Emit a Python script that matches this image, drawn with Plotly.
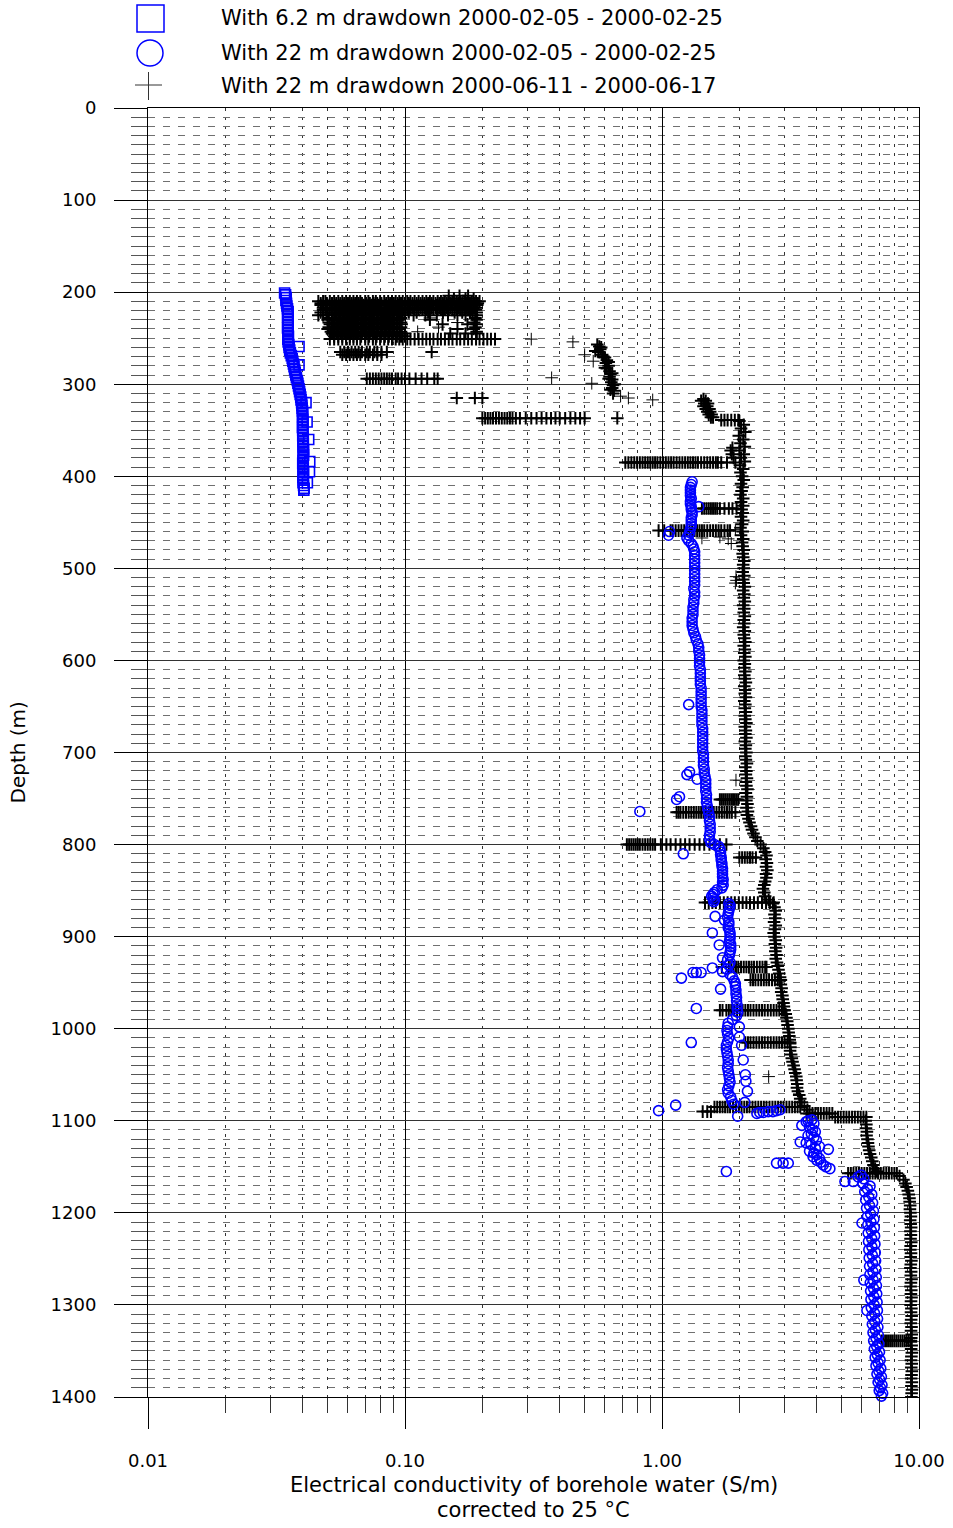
import plotly.graph_objects as go

# ---------------------------------------------------------------- data
# Electrical conductivity of borehole water (S/m, corrected to 25 degC) vs depth (m)

# With 6.2 m drawdown 2000-02-05 - 2000-02-25  (depth, EC)
square_pts = [
    (201, 0.0340), (203, 0.0343), (206, 0.0345), (209, 0.0344), (212, 0.0346), (215, 0.0347),
    (218, 0.0349), (221, 0.0351), (224, 0.0350), (227, 0.0349), (230, 0.0350), (233, 0.0351),
    (236, 0.0350), (239, 0.0349), (242, 0.0350), (245, 0.0351), (248, 0.0352), (251, 0.0350),
    (254, 0.0351), (257, 0.0353), (259, 0.0387), (260, 0.0354), (263, 0.0356), (266, 0.0358),
    (269, 0.0361), (272, 0.0364), (275, 0.0366), (278, 0.0368), (279, 0.0387), (281, 0.0370),
    (284, 0.0372), (287, 0.0374), (290, 0.0376), (293, 0.0378), (296, 0.0381), (299, 0.0383),
    (302, 0.0385), (305, 0.0387), (308, 0.0389), (311, 0.0391), (314, 0.0393), (317, 0.0394),
    (320, 0.0396), (320, 0.0412), (323, 0.0397), (326, 0.0398), (329, 0.0399), (332, 0.0400),
    (335, 0.0399), (338, 0.0400), (341, 0.0401), (341, 0.0416), (344, 0.0400), (347, 0.0399),
    (350, 0.0400), (353, 0.0401), (356, 0.0400), (359, 0.0402), (360, 0.0422), (362, 0.0401),
    (365, 0.0402), (368, 0.0401), (371, 0.0403), (374, 0.0402), (377, 0.0403), (380, 0.0402),
    (383, 0.0401), (384, 0.0426), (386, 0.0400), (389, 0.0401), (392, 0.0402), (395, 0.0403),
    (395, 0.0425), (398, 0.0402), (401, 0.0401), (404, 0.0402), (407, 0.0401), (407, 0.0417),
    (410, 0.0403), (413, 0.0405), (415, 0.0404),
]

# With 22 m drawdown 2000-02-05 - 2000-02-25  (depth, EC)
circle_pts = [
    (406, 1.31), (409, 1.30), (412, 1.29), (415, 1.29), (418, 1.29), (421, 1.29), (424, 1.30),
    (427, 1.29), (430, 1.29), (433, 1.30), (433, 1.39), (436, 1.30), (439, 1.31), (442, 1.31),
    (445, 1.30), (448, 1.30), (451, 1.30), (454, 1.30), (457, 1.29), (460, 1.07), (464, 1.06),
    (461, 1.28), (464, 1.27), (467, 1.25), (470, 1.27), (473, 1.30), (476, 1.32), (479, 1.33),
    (482, 1.34), (486, 1.34), (490, 1.34), (494, 1.34), (498, 1.34), (502, 1.34), (506, 1.34),
    (510, 1.34), (514, 1.34), (518, 1.34), (522, 1.33), (526, 1.34), (530, 1.34), (534, 1.33),
    (538, 1.33), (542, 1.32), (546, 1.32), (550, 1.32), (554, 1.31), (558, 1.31), (562, 1.31),
    (566, 1.32), (570, 1.33), (574, 1.35), (578, 1.36), (582, 1.38), (586, 1.39), (590, 1.39),
    (594, 1.40), (598, 1.40), (602, 1.40), (606, 1.40), (610, 1.41), (614, 1.41), (618, 1.41),
    (622, 1.41), (626, 1.41), (630, 1.42), (634, 1.42), (638, 1.42), (642, 1.42), (646, 1.42),
    (648, 1.27), (650, 1.42), (654, 1.43), (658, 1.43), (662, 1.43), (666, 1.43), (670, 1.43),
    (674, 1.44), (678, 1.44), (682, 1.44), (686, 1.44), (690, 1.44), (694, 1.44), (698, 1.44),
    (702, 1.45), (706, 1.45), (710, 1.45), (714, 1.45), (718, 1.46), (721, 1.28), (724, 1.25),
    (722, 1.46), (726, 1.47), (729, 1.37), (730, 1.48), (734, 1.48), (738, 1.48), (742, 1.48),
    (746, 1.49), (748, 1.17), (751, 1.14), (750, 1.49), (754, 1.49), (758, 1.50), (762, 1.51),
    (764, 0.82), (766, 1.52), (770, 1.53), (774, 1.53), (778, 1.54), (782, 1.54), (786, 1.54),
    (790, 1.53), (794, 1.53), (798, 1.55), (800, 1.60), (802, 1.66), (805, 1.68), (808, 1.69),
    (810, 1.21), (811, 1.69), (814, 1.70), (817, 1.70), (820, 1.71), (823, 1.71), (826, 1.72),
    (829, 1.72), (832, 1.72), (835, 1.72), (838, 1.73), (841, 1.72), (844, 1.73), (847, 1.71),
    (849, 1.64), (852, 1.60), (854, 1.58), (856, 1.56), (858, 1.58), (860, 1.60), (862, 1.59),
    (864, 1.82), (866, 1.84), (869, 1.83), (872, 1.82), (875, 1.81), (878, 1.61), (879, 1.80),
    (882, 1.75), (884, 1.82), (887, 1.82), (890, 1.81), (893, 1.83), (896, 1.57), (896, 1.84),
    (899, 1.84), (902, 1.84), (905, 1.83), (909, 1.67), (908, 1.85), (911, 1.85), (914, 1.85),
    (917, 1.84), (920, 1.83), (923, 1.72), (925, 1.80), (928, 1.84), (931, 1.82), (934, 1.57),
    (935, 1.78), (938, 1.72), (939, 1.32), (939, 1.36), (939, 1.42), (941, 1.84), (945, 1.19),
    (944, 1.88), (948, 1.91), (951, 1.93), (954, 1.93), (957, 1.69), (958, 1.94), (962, 1.94),
    (966, 1.95), (970, 1.95), (974, 1.96), (978, 1.36), (978, 1.96), (982, 1.97), (986, 1.95),
    (990, 1.88), (994, 1.81), (998, 2.00), (998, 1.80), (1002, 1.79), (1006, 1.80), (1009, 2.00),
    (1010, 1.82), (1014, 1.80), (1015, 1.30), (1018, 2.04), (1018, 1.78), (1022, 1.78),
    (1026, 1.79), (1030, 1.80), (1034, 2.07), (1034, 1.81), (1038, 1.81), (1042, 1.80),
    (1046, 1.81), (1050, 2.11), (1050, 1.82), (1054, 1.83), (1057, 2.12), (1058, 1.84),
    (1062, 1.82), (1066, 1.80), (1068, 2.15), (1070, 1.81), (1074, 1.85), (1078, 1.87),
    (1080, 2.10), (1082, 1.90), (1083, 1.13), (1089, 0.97), (1095, 1.97),
    (1092, 2.34), (1091, 2.40), (1091, 2.48), (1090, 2.59), (1090, 2.70), (1089, 2.79), (1088, 2.88),
    (1099, 3.83), (1100, 3.70), (1101, 3.64), (1103, 3.90), (1105, 3.50), (1107, 3.75),
    (1110, 3.85), (1112, 3.95), (1114, 3.81), (1116, 3.70), (1118, 3.90), (1121, 3.99),
    (1123, 3.45), (1124, 3.64), (1126, 3.80), (1128, 4.10), (1130, 3.95), (1131, 4.44),
    (1133, 3.75), (1135, 3.90), (1137, 4.00), (1139, 3.87), (1141, 4.10), (1143, 4.01),
    (1145, 4.15), (1148, 4.24), (1150, 4.35), (1152, 4.50),
    (1146, 2.79), (1146, 2.96), (1146, 3.10), (1155, 1.78),
    (1166, 5.15), (1166, 5.55), (1161, 5.80), (1159, 5.95), (1163, 6.10),
    (1168, 6.05), (1171, 6.45), (1174, 6.30), (1177, 6.15), (1180, 6.55), (1183, 6.38),
    (1186, 6.20), (1189, 6.60), (1192, 6.42), (1195, 6.25), (1198, 6.65), (1201, 6.48),
    (1204, 6.30), (1207, 6.68), (1210, 6.50), (1211, 6.00), (1213, 6.32), (1216, 6.70),
    (1219, 6.52), (1222, 6.34), (1225, 6.72), (1228, 6.55), (1231, 6.36), (1234, 6.74),
    (1237, 6.56), (1240, 6.38), (1243, 6.76), (1246, 6.58), (1249, 6.40), (1252, 6.78),
    (1255, 6.60), (1258, 6.42), (1261, 6.80), (1264, 6.62), (1267, 6.44), (1270, 6.82),
    (1273, 6.10), (1273, 6.63), (1276, 6.46), (1279, 6.83), (1282, 6.65), (1285, 6.48),
    (1288, 6.85), (1291, 6.67), (1294, 6.50), (1297, 6.87), (1300, 6.69), (1303, 6.52),
    (1306, 6.27), (1306, 6.89), (1309, 6.71), (1312, 6.55), (1315, 6.90), (1318, 6.73),
    (1321, 6.58), (1324, 6.92), (1327, 6.76), (1330, 6.62), (1333, 6.95), (1336, 6.80),
    (1339, 6.66), (1342, 6.98), (1345, 6.84), (1348, 6.70), (1351, 7.02), (1354, 6.88),
    (1357, 6.75), (1360, 7.06), (1363, 6.93), (1366, 6.80), (1369, 7.10), (1372, 6.98),
    (1375, 6.86), (1378, 7.14), (1381, 7.03), (1384, 6.93), (1387, 7.18), (1390, 7.08),
    (1393, 7.00), (1396, 7.22), (1399, 7.14), (1402, 7.25),
]

# With 22 m drawdown 2000-06-11 - 2000-06-17: continuous logging profile (depth, EC)
plus_profile = [
    (340, 2.00), (344, 2.08), (348, 2.03), (352, 2.11), (356, 1.99), (360, 2.07), (364, 2.02),
    (368, 2.10), (372, 2.00), (376, 2.08), (380, 2.03), (384, 2.10), (388, 2.01), (392, 2.07),
    (396, 2.02), (400, 2.05), (404, 2.08), (408, 2.03), (412, 2.06), (416, 2.04), (420, 2.02),
    (424, 2.07), (428, 2.03), (432, 2.07), (436, 2.04), (440, 2.06), (444, 2.03), (448, 2.07),
    (452, 2.05), (456, 2.02), (460, 2.06), (464, 2.03), (468, 2.07), (472, 2.05), (476, 2.06),
    (480, 2.08), (484, 2.06), (488, 2.07), (492, 2.09), (496, 2.07), (500, 2.08), (504, 2.06),
    (508, 2.09), (512, 2.07), (516, 2.08), (520, 2.10), (524, 2.07), (528, 2.09), (532, 2.08),
    (536, 2.10), (540, 2.07), (544, 2.09), (548, 2.08), (552, 2.10), (556, 2.08), (560, 2.09),
    (564, 2.07), (568, 2.10), (572, 2.08), (576, 2.09), (580, 2.11), (584, 2.08), (588, 2.10),
    (592, 2.09), (596, 2.11), (600, 2.08), (604, 2.10), (608, 2.09), (612, 2.11), (616, 2.09),
    (620, 2.10), (624, 2.12), (628, 2.09), (632, 2.11), (636, 2.10), (640, 2.12), (644, 2.09),
    (648, 2.11), (652, 2.10), (656, 2.12), (660, 2.10), (664, 2.11), (668, 2.13), (672, 2.10),
    (676, 2.12), (680, 2.11), (684, 2.13), (688, 2.10), (692, 2.12), (696, 2.11), (700, 2.13),
    (704, 2.11), (708, 2.12), (712, 2.14), (716, 2.11), (720, 2.13), (724, 2.12), (728, 2.14),
    (732, 2.12), (736, 2.13), (740, 2.15), (744, 2.12), (748, 2.14), (752, 2.13), (756, 2.15),
    (760, 2.13), (764, 2.16), (768, 2.14), (772, 2.17), (776, 2.19), (780, 2.22), (784, 2.24),
    (788, 2.27), (792, 2.31), (796, 2.35), (800, 2.42), (804, 2.48), (808, 2.52), (812, 2.55),
    (816, 2.53), (820, 2.56), (824, 2.54), (828, 2.57), (832, 2.54), (836, 2.55), (840, 2.52),
    (844, 2.50), (848, 2.47), (852, 2.50), (856, 2.52), (860, 2.60), (864, 2.70), (868, 2.74),
    (872, 2.77), (876, 2.74), (880, 2.76), (884, 2.73), (888, 2.77), (892, 2.75), (896, 2.72),
    (900, 2.74), (904, 2.77), (908, 2.75), (912, 2.78), (916, 2.76), (920, 2.79), (924, 2.77),
    (928, 2.80), (932, 2.82), (936, 2.84), (940, 2.86), (944, 2.88), (948, 2.87), (952, 2.90),
    (956, 2.92), (960, 2.91), (964, 2.94), (968, 2.95), (972, 2.97), (976, 2.98), (980, 3.00),
    (984, 3.03), (988, 3.05), (992, 3.07), (996, 3.08), (1000, 3.10), (1004, 3.11), (1008, 3.13),
    (1012, 3.14), (1016, 3.15), (1020, 3.16), (1024, 3.15), (1028, 3.18), (1032, 3.20),
    (1036, 3.22), (1040, 3.25), (1044, 3.28), (1048, 3.30), (1052, 3.33), (1056, 3.34),
    (1060, 3.36), (1064, 3.35), (1068, 3.38), (1072, 3.42), (1076, 3.45), (1080, 3.50),
    (1084, 3.58), (1088, 3.68),
    (1100, 6.20), (1104, 6.24), (1108, 6.22), (1112, 6.27), (1116, 6.25), (1120, 6.30),
    (1124, 6.33), (1128, 6.36), (1132, 6.40), (1136, 6.45), (1140, 6.52), (1144, 6.58),
    (1148, 6.65), (1152, 6.75), (1155, 6.85),
    (1160, 8.40), (1164, 8.70), (1168, 8.85), (1172, 8.95), (1176, 9.05), (1180, 9.12),
    (1184, 9.18), (1188, 9.20), (1192, 9.24), (1196, 9.22), (1200, 9.26), (1204, 9.30),
    (1208, 9.24), (1212, 9.28), (1216, 9.32), (1220, 9.26), (1224, 9.30), (1228, 9.27),
    (1232, 9.33), (1236, 9.28), (1240, 9.25), (1244, 9.31), (1248, 9.28), (1252, 9.34),
    (1256, 9.29), (1260, 9.26), (1264, 9.32), (1268, 9.29), (1272, 9.35), (1276, 9.30),
    (1280, 9.27), (1284, 9.33), (1288, 9.30), (1292, 9.35), (1296, 9.31), (1300, 9.28),
    (1304, 9.34), (1308, 9.31), (1312, 9.36), (1316, 9.32), (1320, 9.29), (1324, 9.35),
    (1328, 9.31), (1332, 9.37), (1336, 9.33), (1340, 9.30), (1344, 9.36), (1348, 9.32),
    (1352, 9.38), (1356, 9.34), (1360, 9.31), (1364, 9.37), (1368, 9.33), (1372, 9.38),
    (1376, 9.35), (1380, 9.32), (1384, 9.38), (1388, 9.34), (1392, 9.39), (1396, 9.36),
    (1400, 9.34),
]

# Same run: scattered single readings (depth, EC)
plus_scatter = [
    (251, 0.31), (254, 0.45), (268, 0.50), (275, 0.54), (293, 0.372), (299, 0.533),
    (313, 0.69), (315, 0.74), (317, 0.92), (458, 1.93), (466, 1.68), (467, 1.43), (468, 1.81),
    (473, 1.86), (509, 1.94), (513, 1.95), (516, 1.93), (730, 1.94), (1052, 2.60),
    (228, 0.125), (233, 0.16), (238, 0.135), (243, 0.112),
]

# Same run: short dense clusters (depth, EC)
plus_cluster = [
    (257, 0.56), (259, 0.57), (260, 0.58), (262, 0.575), (264, 0.55), (265, 0.565),
    (268, 0.585), (270, 0.59), (271, 0.60), (274, 0.61), (276, 0.62), (277, 0.605),
    (280, 0.62), (282, 0.60), (283, 0.61), (286, 0.625), (288, 0.64), (289, 0.63),
    (292, 0.625), (294, 0.62), (295, 0.64), (298, 0.635), (300, 0.655), (301, 0.645),
    (304, 0.64), (306, 0.63), (307, 0.65), (310, 0.645),
    (316, 1.45), (318, 1.42), (318, 1.48), (321, 1.46), (321, 1.51), (324, 1.45), (324, 1.50),
    (327, 1.48), (327, 1.53), (330, 1.50), (330, 1.54), (333, 1.52), (333, 1.56), (336, 1.55),
    (336, 1.58), (369, 1.88), (372, 1.85), (376, 1.87), (380, 1.90),
]

# Same run: stationary readings, many values logged at one depth (depth, [EC, ...])
plus_stationary = [
    (204, [0.148, 0.163, 0.176]),
    (207, [0.155, 0.172, 0.185]),
    (210, [0.046, 0.048, 0.049, 0.051, 0.053, 0.055, 0.057, 0.059, 0.061, 0.063, 0.065, 0.067,
           0.070, 0.072, 0.075, 0.077, 0.080, 0.083, 0.086, 0.089, 0.092, 0.095, 0.098, 0.102,
           0.105, 0.109, 0.113, 0.117, 0.121, 0.125, 0.129, 0.134, 0.138, 0.143, 0.148, 0.153,
           0.159, 0.164, 0.170, 0.176, 0.182, 0.189, 0.195]),
    (212, [0.047, 0.0495, 0.052, 0.054, 0.056, 0.058, 0.060, 0.062, 0.064, 0.066, 0.068, 0.0705,
           0.073, 0.0755, 0.078, 0.081, 0.0845, 0.0875, 0.0905, 0.0935, 0.0965, 0.100, 0.1035,
           0.107, 0.111, 0.115, 0.119, 0.123, 0.127, 0.1315, 0.136, 0.1405, 0.1455, 0.1505,
           0.156, 0.1615, 0.167, 0.173, 0.179, 0.1855, 0.192]),
    (214, [0.047, 0.050, 0.052, 0.054, 0.056, 0.058, 0.060, 0.062, 0.064, 0.066, 0.069, 0.071,
           0.074, 0.076, 0.079, 0.081, 0.084, 0.087, 0.090, 0.094, 0.097, 0.100, 0.104, 0.107,
           0.111, 0.115, 0.119, 0.123, 0.127, 0.132, 0.136, 0.141, 0.146, 0.151, 0.156, 0.161,
           0.167, 0.173, 0.179, 0.185, 0.191]),
    (217, [0.048, 0.0495, 0.052, 0.054, 0.056, 0.058, 0.060, 0.062, 0.064, 0.066, 0.068, 0.0705,
           0.073, 0.0755, 0.078, 0.081, 0.0845, 0.0875, 0.0905, 0.0935, 0.0965, 0.100, 0.1035,
           0.107, 0.111, 0.115, 0.119, 0.123, 0.127, 0.1315, 0.136, 0.1405, 0.1455, 0.1505,
           0.156, 0.1615, 0.167, 0.173, 0.179, 0.1855, 0.190]),
    (219, [0.048, 0.049, 0.051, 0.053, 0.055, 0.057, 0.059, 0.061, 0.063, 0.065, 0.067, 0.070,
           0.072, 0.075, 0.077, 0.080, 0.083, 0.086, 0.089, 0.092, 0.095, 0.098, 0.102, 0.105,
           0.109, 0.113, 0.117, 0.121, 0.125, 0.129, 0.134, 0.138, 0.143, 0.148, 0.153, 0.159,
           0.164, 0.170, 0.176, 0.182, 0.189]),
    (222, [0.047, 0.0495, 0.052, 0.054, 0.056, 0.058, 0.060, 0.062, 0.064, 0.066, 0.068, 0.0705,
           0.073, 0.0755, 0.078, 0.081, 0.0845, 0.0875, 0.0905, 0.0935, 0.0965, 0.100, 0.1035,
           0.111, 0.123, 0.1405, 0.156, 0.167, 0.179, 0.190]),
    (225, [0.046, 0.048, 0.050, 0.052, 0.054, 0.056, 0.058, 0.060, 0.062, 0.064, 0.066, 0.069,
           0.071, 0.074, 0.076, 0.079, 0.082, 0.085, 0.088, 0.091, 0.094, 0.098, 0.108, 0.120,
           0.133, 0.147, 0.160, 0.172, 0.183, 0.190]),
    (228, [0.0505, 0.053, 0.055, 0.057, 0.059, 0.061, 0.063, 0.065, 0.0675, 0.070, 0.0725,
           0.075, 0.0775, 0.0805, 0.0835, 0.0865, 0.0895, 0.093, 0.0965, 0.188]),
    (230, [0.050, 0.052, 0.054, 0.056, 0.058, 0.060, 0.062, 0.064, 0.066, 0.069, 0.071, 0.074,
           0.076, 0.079, 0.082, 0.085, 0.088, 0.091, 0.095, 0.125, 0.190]),
    (233, [0.0505, 0.053, 0.055, 0.057, 0.059, 0.061, 0.063, 0.065, 0.0675, 0.070, 0.0725,
           0.075, 0.0775, 0.0805, 0.0835, 0.0865, 0.0895, 0.093, 0.0965, 0.186]),
    (235, [0.051, 0.053, 0.055, 0.057, 0.059, 0.061, 0.063, 0.065, 0.068, 0.070, 0.073, 0.075,
           0.078, 0.081, 0.084, 0.087, 0.090, 0.093, 0.097, 0.140, 0.175, 0.190]),
    (238, [0.0505, 0.053, 0.055, 0.057, 0.059, 0.061, 0.063, 0.065, 0.0675, 0.070, 0.0725,
           0.075, 0.0775, 0.0805, 0.0835, 0.0865, 0.0895, 0.093, 0.0965, 0.188]),
    (240, [0.050, 0.052, 0.054, 0.056, 0.058, 0.060, 0.062, 0.064, 0.066, 0.069, 0.071, 0.074,
           0.076, 0.079, 0.082, 0.085, 0.088, 0.091, 0.095, 0.160, 0.185]),
    (243, [0.0515, 0.053, 0.055, 0.057, 0.059, 0.061, 0.063, 0.065, 0.0675, 0.070, 0.0725,
           0.075, 0.0775, 0.0805, 0.0835, 0.0865, 0.0895, 0.093, 0.0965, 0.190]),
    (245, [0.052, 0.054, 0.056, 0.058, 0.060, 0.062, 0.064, 0.066, 0.068, 0.071, 0.073, 0.076,
           0.078, 0.081, 0.084, 0.087, 0.090, 0.093, 0.097, 0.100, 0.150, 0.172, 0.190]),
    (248, [0.053, 0.055, 0.057, 0.059, 0.061, 0.063, 0.065, 0.0675, 0.070, 0.0725, 0.075,
           0.0775, 0.0805, 0.0835, 0.0865, 0.0895, 0.093, 0.0965, 0.100]),
    (251, [0.051, 0.053, 0.055, 0.057, 0.059, 0.061, 0.063, 0.065, 0.067, 0.070, 0.072, 0.075,
           0.077, 0.080, 0.083, 0.086, 0.089, 0.092, 0.095, 0.098, 0.102, 0.105, 0.109, 0.113,
           0.117, 0.121, 0.125, 0.129, 0.134, 0.138, 0.143, 0.148, 0.153, 0.159, 0.164, 0.170,
           0.176, 0.182, 0.189, 0.195, 0.202, 0.209, 0.216, 0.224]),
    (265, [0.056, 0.058, 0.060, 0.062, 0.064, 0.066, 0.068, 0.071, 0.073, 0.076, 0.078, 0.081,
           0.085, 0.127]),
    (268, [0.057, 0.059, 0.061, 0.063, 0.065, 0.067, 0.070, 0.072, 0.075, 0.078, 0.081]),
    (294, [0.071, 0.073, 0.075, 0.077, 0.079, 0.081, 0.083, 0.085, 0.087, 0.089, 0.092, 0.094,
           0.097, 0.100, 0.104, 0.110, 0.116, 0.122, 0.130, 0.134]),
    (315, [0.159, 0.187, 0.200]),
    (337, [0.200, 0.205, 0.210, 0.215, 0.220, 0.226, 0.232, 0.238, 0.244, 0.250, 0.256, 0.262,
           0.270, 0.280, 0.295, 0.310, 0.325, 0.340, 0.355, 0.370, 0.385, 0.400, 0.420, 0.440,
           0.460, 0.480, 0.500, 0.670]),
    (339, [1.70, 1.75, 1.80, 1.86, 1.92, 1.98]),
    (385, [0.72, 0.74, 0.76, 0.78, 0.80, 0.82, 0.84, 0.86, 0.88, 0.90, 0.92, 0.94, 0.96, 0.985,
           1.01, 1.035, 1.06, 1.085, 1.11, 1.14, 1.17, 1.20, 1.23, 1.26, 1.29, 1.32, 1.35, 1.38,
           1.42, 1.46, 1.50, 1.54, 1.58, 1.62, 1.65, 1.70, 1.79, 1.93]),
    (435, [1.43, 1.46, 1.49, 1.52, 1.55, 1.58, 1.61, 1.64, 1.68, 1.75, 1.82, 1.88, 1.95]),
    (459, [0.97, 1.02, 1.08, 1.10, 1.13, 1.16, 1.19, 1.22, 1.25, 1.28, 1.31, 1.34, 1.37, 1.40,
           1.43, 1.46, 1.50, 1.54, 1.58, 1.62, 1.66, 1.70, 1.75, 1.80, 1.84]),
    (751, [1.68, 1.71, 1.74, 1.77, 1.80, 1.83, 1.86, 1.89, 1.92, 1.95, 1.98]),
    (765, [1.14, 1.16, 1.18, 1.21, 1.24, 1.27, 1.30, 1.33, 1.36, 1.39, 1.42, 1.45, 1.48, 1.52,
           1.55, 1.59, 1.63, 1.67, 1.71, 1.75, 1.79, 1.83, 1.87, 1.93]),
    (800, [0.73, 0.745, 0.76, 0.775, 0.79, 0.805, 0.82, 0.84, 0.86, 0.88, 0.90, 0.92, 0.94,
           0.99, 1.04, 1.08, 1.13, 1.18, 1.23, 1.28, 1.34, 1.40, 1.46, 1.53, 1.60, 1.68, 1.78]),
    (814, [2.00, 2.05, 2.10, 2.15, 2.20, 2.25, 2.32]),
    (863, [1.47, 1.52, 1.57, 1.62, 1.68, 1.74, 1.80, 1.86, 1.92, 1.99, 2.06, 2.13, 2.20, 2.28,
           2.36, 2.45, 2.54, 2.63, 2.72]),
    (933, [1.71, 1.82, 1.86, 1.90, 1.94, 1.98, 2.03, 2.08, 2.13, 2.18, 2.23, 2.28, 2.34, 2.40,
           2.46, 2.52, 2.55]),
    (947, [2.21, 2.26, 2.31, 2.37, 2.43, 2.49, 2.55, 2.61, 2.68, 2.75, 2.82, 2.90]),
    (980, [1.68, 1.72, 1.78, 1.82, 1.86, 1.91, 1.96, 2.01, 2.06, 2.11, 2.16, 2.21, 2.27, 2.33,
           2.39, 2.45, 2.51, 2.58, 2.65, 2.72, 2.79, 2.86, 2.93, 2.98]),
    (1015, [2.11, 2.16, 2.21, 2.27, 2.33, 2.39, 2.45, 2.51, 2.58, 2.65, 2.72, 2.79, 2.86, 2.93,
            3.00, 3.08, 3.15]),
    (1085, [1.60, 1.64, 1.68, 1.72, 1.76, 1.80, 1.84, 1.89, 1.94, 1.99, 2.04, 2.09, 2.14, 2.19,
            2.25, 2.31, 2.37, 2.43, 2.49, 2.55, 2.62, 2.69, 2.76, 2.83, 2.90, 2.97, 3.05, 3.13,
            3.21, 3.29, 3.37, 3.45]),
    (1090, [1.44, 1.50, 1.55]),
    (1092, [3.65, 3.75, 3.85, 3.95, 4.05, 4.15, 4.26, 4.37, 4.48, 4.60]),
    (1096, [4.72, 4.84, 4.96, 5.09, 5.22, 5.35, 5.49, 5.63, 5.78, 5.93, 6.08, 6.24]),
    (1157, [5.30, 5.43, 5.56, 5.70, 5.84, 5.98, 6.13, 6.28, 6.44, 6.60, 6.76, 6.93, 7.10, 7.28,
            7.46, 7.64, 7.83, 8.02, 8.20]),
    (1339, [7.17, 7.30, 7.44, 7.58, 7.72, 7.86, 8.01, 8.16, 8.31, 8.47, 8.63, 8.79, 8.95, 9.12,
            9.30]),
]

legend_labels = [
    "With 6.2 m drawdown 2000-02-05 - 2000-02-25",
    "With 22 m drawdown 2000-02-05 - 2000-02-25",
    "With 22 m drawdown 2000-06-11 - 2000-06-17",
]
x_tickvals = [0.01, 0.1, 1, 10]
x_ticktext = ["0.01", "0.10", "1.00", "10.00"]
x_minor = [m * d for d in (0.01, 0.1, 1) for m in range(2, 10)]

# ---------------------------------------------------------------- assemble
sq_d = [d for d, _ in square_pts]
sq_ec = [v for _, v in square_pts]
ci_d = [d for d, _ in circle_pts]
ci_ec = [v for _, v in circle_pts]

# dense logging (profile, clusters and stationary runs) drawn with heavier crosses
dense_d = [d for d, _ in plus_profile] + [d for d, _ in plus_cluster]
dense_ec = [v for _, v in plus_profile] + [v for _, v in plus_cluster]
for depth, values in plus_stationary:
    dense_d += [depth] * len(values)
    dense_ec += list(values)
single_d = [d for d, _ in plus_scatter]
single_ec = [v for _, v in plus_scatter]

# ---------------------------------------------------------------- figure
W, H = 953, 1528
L, R, T, B = 148, 919, 108, 1397      # plot area in pixels
FONT = "DejaVu Sans"
BLUE = "#0000ff"


def px_x(px):
    return (px - L) / (R - L)


def px_y(py):
    return (B - py) / (B - T)


fig = go.Figure()
fig.add_trace(go.Scatter(
    x=dense_ec, y=dense_d, mode="markers", hoverinfo="skip", showlegend=False,
    marker=dict(symbol="cross-thin", size=9, color="black",
                line=dict(color="black", width=2.0)),
))
fig.add_trace(go.Scatter(
    x=single_ec, y=single_d, mode="markers", hoverinfo="skip", showlegend=False,
    marker=dict(symbol="cross-thin", size=9, color="black",
                line=dict(color="black", width=1.0)),
))
fig.add_trace(go.Scatter(
    x=sq_ec, y=sq_d, mode="markers", hoverinfo="skip", showlegend=False,
    marker=dict(symbol="square-open", size=10, color=BLUE, line=dict(width=1.6)),
))
fig.add_trace(go.Scatter(
    x=ci_ec, y=ci_d, mode="markers", hoverinfo="skip", showlegend=False, cliponaxis=False,
    marker=dict(symbol="circle-open", size=10, color=BLUE, line=dict(width=1.6)),
))

fig.update_xaxes(
    type="log", range=[-2, 1], tickmode="array", tickvals=x_tickvals, ticktext=x_ticktext,
    ticks="outside", ticklen=31, tickwidth=1, tickcolor="black", automargin=False,
    showgrid=True, gridcolor="black", gridwidth=1, zeroline=False,
    showline=True, linecolor="black", linewidth=1, mirror=True,
    tickfont=dict(family=FONT, size=18, color="black"), ticklabelstandoff=16,
    minor=dict(tickmode="array", tickvals=x_minor, ticks="outside", ticklen=15,
               tickwidth=1, tickcolor="#333333", showgrid=True, gridcolor="#333333",
               griddash="3px,6px", gridwidth=1),
)
fig.update_yaxes(
    range=[1400, 0], tickmode="linear", tick0=0, dtick=100, automargin=False,
    ticks="outside", ticklen=33, tickwidth=1, tickcolor="black",
    showgrid=True, gridcolor="#333333", gridwidth=1, zeroline=False,
    showline=True, linecolor="black", linewidth=1, mirror=True,
    tickfont=dict(family=FONT, size=18, color="black"), ticklabelstandoff=14,
    minor=dict(tick0=0, dtick=10, ticks="outside", ticklen=16, tickwidth=1,
               tickcolor="#555555", showgrid=True, gridcolor="#707070",
               griddash="7px,8px", gridwidth=1),
)

annotations = [
    dict(text="Electrical conductivity of borehole water (S/m)", x=0.5, y=px_y(1485),
         xanchor="center", yanchor="middle", size=21),
    dict(text="corrected to 25 °C", x=0.5, y=px_y(1510), xanchor="center",
         yanchor="middle", size=21),
    dict(text="Depth (m)", x=px_x(17), y=0.5, textangle=-90, xanchor="center",
         yanchor="middle", size=20),
]
for label, cy in zip(legend_labels, (18, 53, 86)):
    annotations.append(dict(text=label, x=px_x(219), y=px_y(cy), xanchor="left",
                            yanchor="middle", size=21))
for a in annotations:
    size = a.pop("size")
    a.update(xref="paper", yref="paper", showarrow=False,
             font=dict(family=FONT, size=size, color="black"))

shapes = [
    dict(type="rect", x0=px_x(137), x1=px_x(164), y0=px_y(32), y1=px_y(5),
         line=dict(color=BLUE, width=1.5)),
    dict(type="circle", x0=px_x(137), x1=px_x(163), y0=px_y(66), y1=px_y(40),
         line=dict(color=BLUE, width=1.5)),
    dict(type="line", x0=px_x(135), x1=px_x(162), y0=px_y(85), y1=px_y(85),
         line=dict(color="#333333", width=1)),
    dict(type="line", x0=px_x(148.5), x1=px_x(148.5), y0=px_y(100), y1=px_y(72),
         line=dict(color="#333333", width=1)),
]
for s in shapes:
    s.update(xref="paper", yref="paper")

fig.update_layout(
    width=W, height=H, autosize=False,
    margin=dict(l=L, r=W - R, t=T, b=H - B, pad=0),
    paper_bgcolor="white", plot_bgcolor="white",
    font=dict(family=FONT, color="black"),
    showlegend=False, annotations=annotations, shapes=shapes,
)

fig.write_html("out.html")
